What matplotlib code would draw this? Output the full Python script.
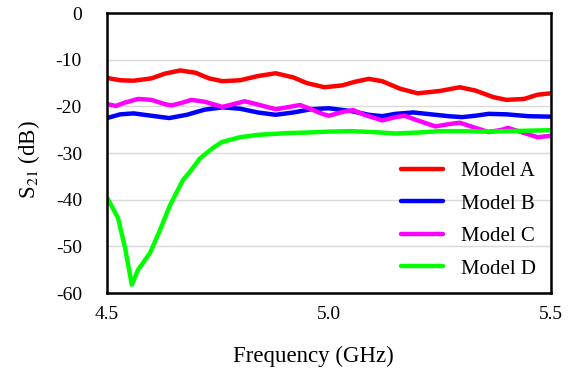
import matplotlib
matplotlib.use("Agg")
import matplotlib.pyplot as plt

plt.rcParams['font.family'] = ['Liberation Serif', 'DejaVu Serif']
plt.rcParams['mathtext.fontset'] = 'stix'

freq_a = [4.50, 4.53, 4.56, 4.60, 4.63, 4.665, 4.70, 4.73, 4.76, 4.80, 4.84, 4.88, 4.92, 4.95,
          4.99, 5.03, 5.06, 5.09, 5.12, 5.16, 5.20, 5.25, 5.295, 5.33, 5.37, 5.40, 5.44, 5.47, 5.50]
model_a = [-13.9, -14.4, -14.5, -14.0, -13.0, -12.3, -12.8, -14.0, -14.6, -14.4, -13.5, -12.9, -13.8, -15.0,
           -15.9, -15.5, -14.7, -14.1, -14.6, -16.2, -17.2, -16.7, -15.9, -16.6, -18.0, -18.6, -18.4, -17.5, -17.2]

freq_b = [4.50, 4.53, 4.56, 4.60, 4.64, 4.68, 4.72, 4.76, 4.80, 4.84, 4.88, 4.92, 4.96, 5.00,
          5.05, 5.09, 5.12, 5.15, 5.19, 5.23, 5.27, 5.30, 5.33, 5.36, 5.40, 5.45, 5.50]
model_b = [-22.5, -21.7, -21.5, -22.0, -22.5, -21.8, -20.7, -20.2, -20.5, -21.3, -21.8, -21.3, -20.6, -20.4,
           -21.0, -21.8, -22.1, -21.6, -21.3, -21.7, -22.1, -22.3, -22.0, -21.6, -21.7, -22.1, -22.2]

freq_c = [4.50, 4.52, 4.54, 4.57, 4.60, 4.63, 4.645, 4.67, 4.69, 4.72, 4.76, 4.79, 4.81, 4.84,
          4.88, 4.90, 4.935, 4.96, 4.985, 5.00, 5.03, 5.055, 5.08, 5.12, 5.15, 5.17, 5.20, 5.24,
          5.27, 5.295, 5.33, 5.36, 5.39, 5.403, 5.43, 5.47, 5.50]
model_c = [-19.5, -19.9, -19.2, -18.4, -18.6, -19.5, -19.8, -19.2, -18.6, -19.0, -20.1, -19.4, -18.9, -19.6,
           -20.6, -20.3, -19.7, -20.6, -21.6, -22.0, -21.2, -20.8, -21.8, -23.0, -22.3, -22.0, -23.0, -24.3,
           -23.8, -23.5, -24.6, -25.5, -25.0, -24.6, -25.4, -26.6, -26.3]

freq_d = [4.50, 4.525, 4.541, 4.556, 4.57, 4.597, 4.619, 4.642, 4.671, 4.687, 4.709, 4.74, 4.76, 4.80,
          4.84, 4.91, 4.95, 5.00, 5.05, 5.10, 5.15, 5.20, 5.25, 5.30, 5.35, 5.40, 5.45, 5.50]
model_d = [-39.5, -43.9, -50.4, -58.2, -55.0, -51.4, -46.6, -41.2, -35.8, -34.0, -31.2, -28.8, -27.6, -26.6,
           -26.1, -25.7, -25.6, -25.4, -25.3, -25.5, -25.8, -25.6, -25.3, -25.3, -25.4, -25.3, -25.2, -25.1]

x_ticks = [4.5, 5.0, 5.5]
x_tick_labels = ['4.5', '5.0', '5.5']
y_ticks = [0, -10, -20, -30, -40, -50, -60]
y_tick_labels = ['0', '-10', '-20', '-30', '-40', '-50', '-60']

fig = plt.figure(figsize=(5.72, 3.72), dpi=100)
ax = fig.add_axes([0.187, 0.212, 0.776, 0.753])

lw = 3.2
kw = dict(lw=lw, solid_joinstyle='round', solid_capstyle='round')
ax.plot(freq_a, model_a, color='#ff0000', label='Model A', **kw)
ax.plot(freq_b, model_b, color='#0000ff', label='Model B', **kw)
ax.plot(freq_c, model_c, color='#ff00ff', label='Model C', **kw)
ax.plot(freq_d, model_d, color='#00ff00', label='Model D', **kw)

ax.set_xlim(4.5, 5.5)
ax.set_ylim(-60, 0)
ax.set_xticks(x_ticks)
ax.set_xticklabels(x_tick_labels)
ax.set_yticks(y_ticks)
ax.set_yticklabels(y_tick_labels)
ax.tick_params(axis='both', length=0, labelsize=14)
ax.tick_params(axis='y', pad=18)
ax.tick_params(axis='x', pad=9)
ax.yaxis.grid(True, color='#d9d9d9', lw=1.0)
ax.set_axisbelow(True)
for s in ax.spines.values():
    s.set_linewidth(1.8)
    s.set_color('black')

ax.set_xlabel('Frequency (GHz)', fontsize=16.5, labelpad=17)
ax.xaxis.label.set_x(0.466)
ax.set_ylabel(r'S$_{\rm 21}$ (dB)', fontsize=16.5, labelpad=10)
ax.yaxis.label.set_y(0.475)

leg = ax.legend(loc='lower right', frameon=False, fontsize=15, handlelength=2.0,
                handletextpad=0.9, labelspacing=0.62, borderaxespad=0.3)

fig.savefig('out.png', dpi=100)
